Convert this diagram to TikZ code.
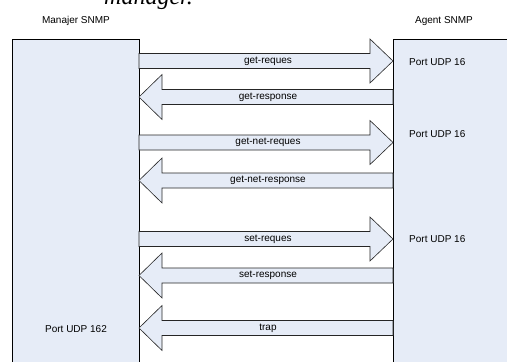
\documentclass[tikz,border=0pt]{standalone}
\usepackage{fontspec}
\setmainfont{Liberation Sans}
\newfontfamily\serifit{Liberation Serif}
\definecolor{boxfill}{HTML}{E6ECF7}
\tikzset{
  side/.style={draw=black, line width=0.6pt, fill=boxfill},
  blockarrow/.style={draw=black!85, line width=0.6pt, fill=boxfill, line join=miter},
  lbl/.style={font=\fontsize{10}{12}\selectfont, inner sep=0pt},
  title/.style={font=\fontsize{10}{12}\selectfont, inner sep=0pt}
}
\newcommand\myRarrow[3]{% name, center y, label
  \draw[blockarrow] (139,#2-7.5) -- (370,#2-7.5) -- (370,#2-22) -- (393,#2) -- (370,#2+22) -- (370,#2+7.5) -- (139,#2+7.5) -- cycle;
  \node[lbl] (#1) at (268,#2) {#3};}
\newcommand\myLarrow[3]{%
  \draw[blockarrow] (393,#2-7.5) -- (162,#2-7.5) -- (162,#2-22.5) -- (139,#2) -- (162,#2+22.5) -- (162,#2+7.5) -- (393,#2+7.5) -- cycle;
  \node[lbl] (#1) at (268,#2) {#3};}
\begin{document}
\begin{tikzpicture}[x=1pt,y=-1pt]
\useasboundingbox (0,0) rectangle (507,362);
\node[font=\serifit\itshape\fontsize{24}{26}\selectfont, anchor=base west, inner sep=0pt] (cap) at (104,4.5) {manager.};
\node[title] (mtitle) at (76,20.5) {Manajer SNMP};
\node[title] (atitle) at (444,21) {Agent SNMP};
\draw[side] (12,39) rectangle (139,375);
\draw[side] (393,39) rectangle (520,375);
\node[lbl, anchor=west] (p1) at (409,62) {Port UDP 16};
\node[lbl, anchor=west] (p2) at (409,134) {Port UDP 16};
\node[lbl, anchor=west] (p3) at (409,239) {Port UDP 16};
\node[lbl] (p162) at (76,329) {Port UDP 162};
\myRarrow{a1}{61}{get-reques}
\myLarrow{a2}{97}{get-response}
\myRarrow{a3}{142.5}{get-net-reques}
\myLarrow{a4}{180.5}{get-net-response}
\myRarrow{a5}{239}{set-reques}
\myLarrow{a6}{275.5}{set-response}
\myLarrow{a7}{328}{trap}
\end{tikzpicture}
\end{document}
